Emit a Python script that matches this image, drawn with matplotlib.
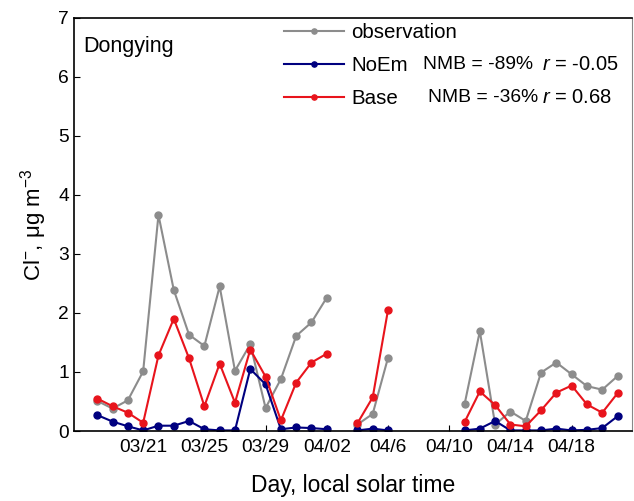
import matplotlib
matplotlib.use('Agg')
import matplotlib.pyplot as plt
import numpy as np

plt.rcParams['font.family'] = 'Liberation Sans'
plt.rcParams['mathtext.fontset'] = 'custom'
plt.rcParams['mathtext.rm'] = 'Liberation Sans'
plt.rcParams['mathtext.it'] = 'Liberation Sans:italic'

nan = np.nan
# one value per day, 03/18 .. 04/21 (nan = no data)
days = np.arange(35)
obs = [0.51, 0.38, 0.52, 1.01, 3.66, 2.39, 1.63, 1.44, 2.45, 1.02, 1.47, 0.39, 0.88, 1.61, 1.84, 2.26,
       nan, 0.11, 0.29, 1.24, nan, nan, nan, nan,
       0.45, 1.69, 0.11, 0.33, 0.17, 0.99, 1.16, 0.96, 0.76, 0.70, 0.93]
noem = [0.27, 0.16, 0.08, 0.01, 0.09, 0.09, 0.17, 0.03, 0.01, 0.01, 1.05, 0.79, 0.03, 0.06, 0.05, 0.03,
        nan, 0.01, 0.04, 0.01, nan, nan, nan, nan,
        0.01, 0.04, 0.17, 0.01, 0.01, 0.01, 0.04, 0.01, 0.02, 0.05, 0.25]
base = [0.55, 0.42, 0.31, 0.14, 1.28, 1.90, 1.23, 0.42, 1.14, 0.48, 1.38, 0.92, 0.18, 0.82, 1.16, 1.31,
        nan, 0.13, 0.57, 2.05, nan, nan, nan, nan,
        0.15, 0.67, 0.44, 0.11, 0.08, 0.35, 0.65, 0.77, 0.45, 0.31, 0.64]
tick_days = [3, 7, 11, 15, 19, 23, 27, 31]
tick_labels = ['03/21', '03/25', '03/29', '04/02', '04/6', '04/10', '04/14', '04/18']
stats = [('NoEm', '-89%', '-0.05'), ('Base', '-36%', '0.68')]

c_obs = '#8c8c8c'
c_noem = '#00007f'
c_base = '#e8141c'

fig = plt.figure(figsize=(6.34, 5.01), dpi=100)
ax = fig.add_axes([0.1167, 0.1397, 0.8803, 0.825])

ax.plot(days, obs, '-o', color=c_obs, lw=1.5, ms=5, label='observation')
ax.plot(days, noem, '-o', color=c_noem, lw=1.5, ms=5, label='NoEm')
ax.plot(days, base, '-o', color=c_base, lw=1.5, ms=5, label='Base')

ax.set_xlim(-1.52, 34.95)
ax.set_ylim(0, 7)
ax.set_xticks(tick_days)
ax.set_xticklabels(tick_labels)
ax.set_yticks(range(8))
ax.tick_params(direction='in', length=4, labelsize=13.8, top=False, right=False)
ax.tick_params(axis='x', pad=6)
for s in ax.spines.values():
    s.set_linewidth(1.2)
ax.spines['right'].set_color('#888888')
ax.spines['right'].set_linewidth(0.8)

ax.set_xlabel('Day, local solar time', fontsize=16.5, labelpad=13)
ax.set_ylabel(r'Cl$^{-}$, μg m$^{-3}$', fontsize=16, labelpad=7)

ax.text(0.016, 0.955, 'Dongying', transform=ax.transAxes, fontsize=15.5, va='top', ha='left')

leg = ax.legend(loc='upper left', bbox_to_anchor=(0.344, 1.031), frameon=False, fontsize=14.8,
                handlelength=2.9, handletextpad=0.35, labelspacing=0.68, markerscale=0.75)

stat_x = [0.625, 0.634]
stat_y = [0.886, 0.806]
for i, (name, nmb, r) in enumerate(stats):
    ax.text(stat_x[i], stat_y[i], 'NMB = ' + nmb, transform=ax.transAxes, fontsize=13.9, va='center')
    ax.text(0.838, stat_y[i], r'$r$ = ' + r, transform=ax.transAxes, fontsize=14.5, va='center')

fig.savefig('out.png', dpi=100)
